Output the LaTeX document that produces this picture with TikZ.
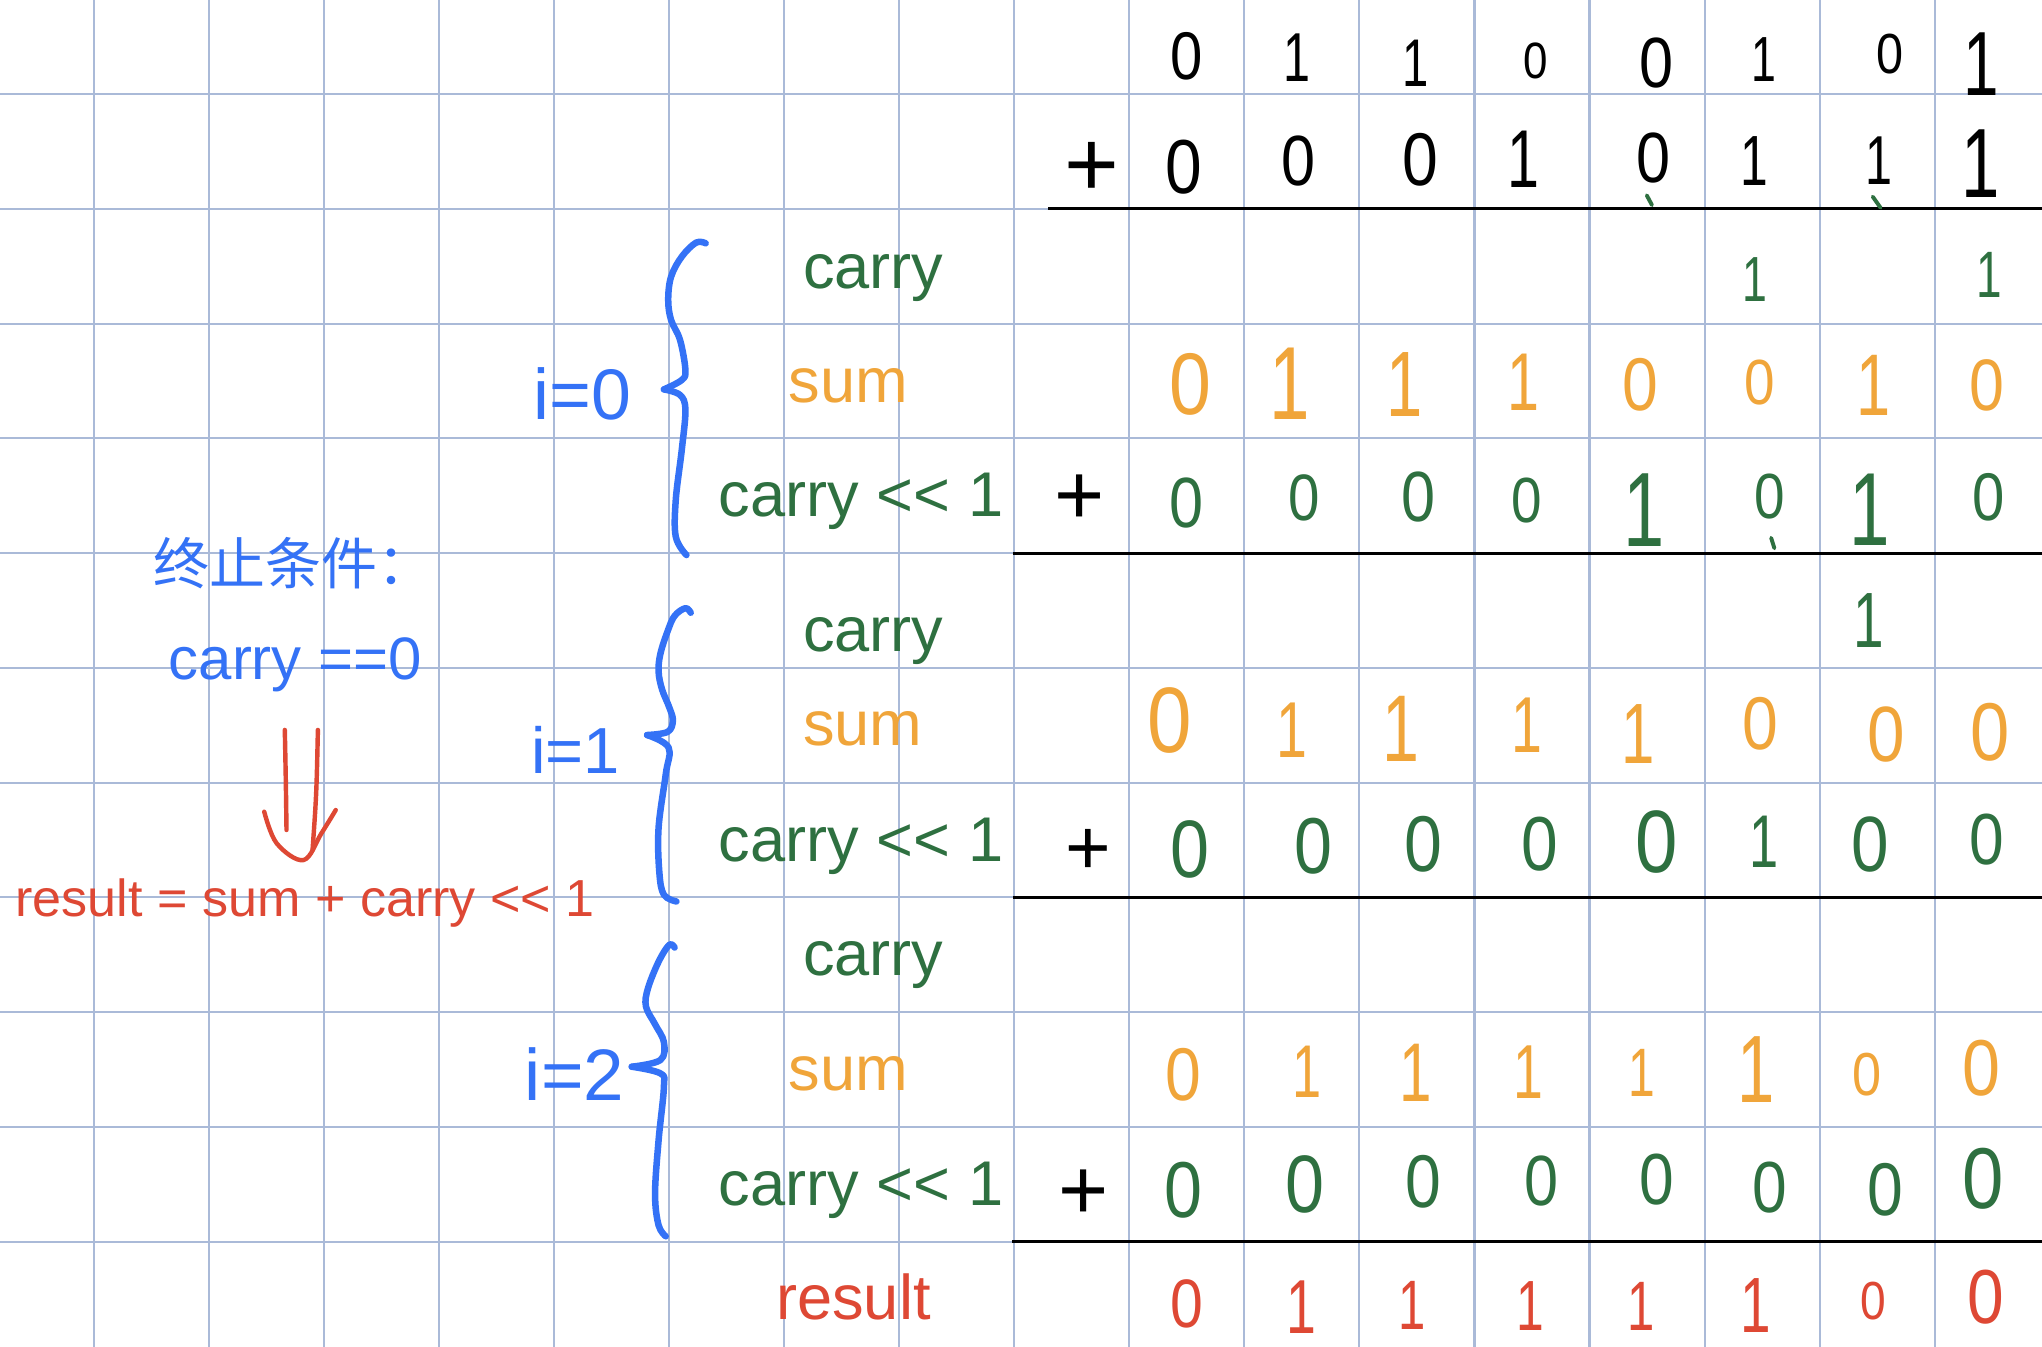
\documentclass[tikz,border=0pt]{standalone}
\usepackage{fontspec}
\setmainfont{Liberation Sans}
\newfontfamily\cjkfont{Noto Sans CJK SC}
\usepackage{graphicx}
\definecolor{gridc}{RGB}{170,186,216}
\definecolor{hblue}{RGB}{52,114,246}
\definecolor{hgreen}{RGB}{46,112,64}
\definecolor{horange}{RGB}{240,165,58}
\definecolor{hred}{RGB}{222,72,52}
\newcommand\shl{<\kern0pt<}
\newcommand\digrow[3]{%
  \foreach \x/\y/\h/\d [count=\i] in {#3} {%
    \pgfmathsetmacro\rr{\h/40}%
    \pgfmathsetmacro\sx{\rr*(0.86-0.16*(\d==1))}%
    \pgfmathsetmacro\xx{\x-(\d==1)*3*\sx}%
    \node[dg,text=#2] (#1-\i) at (\xx,\y) {\scalebox{\sx}[\rr]{\d}};
  }}
\begin{document}
\begin{tikzpicture}[x=1pt,y=-1pt,
  lbl/.style={inner sep=0pt, outer sep=0pt, anchor=base west, font=\fontsize{48.5}{58}\selectfont},
  dg/.style={inner sep=0pt, outer sep=0pt, anchor=center, font=\fontsize{56}{56}\selectfont},
  plus/.style={inner sep=0pt, outer sep=0pt, anchor=center, text=black},
  rule/.style={line width=2.4pt, black},
  gridline/.style={gridc, line width=1.6pt},
  brace/.style={hblue, line width=5pt, line cap=round, line join=round},
  tick/.style={hgreen, line width=3pt, line cap=round},
  harrow/.style={hred, line width=3.4pt, line cap=round, line join=round}]
\useasboundingbox (0,0) rectangle (1568,1034);
\fill[white] (0,0) rectangle (1568,1034);
% grid
\foreach \k in {0,...,16} \draw[gridline] ({72+88.35*\k},0) -- ({72+88.35*\k},1034);
\foreach \k in {0,...,10} \draw[gridline] (0,{72.2+88.13*\k}) -- (1568,{72.2+88.13*\k});
% rules
\draw[rule] (805,160.2) -- (1568,160.2);
\draw[rule] (778,425) -- (1568,425);
\draw[rule] (778,689) -- (1568,689);
\draw[rule] (777,953.5) -- (1568,953.5);
% top operands
\digrow{A}{black}{911/43/37/0, 998/44/38/1, 1089/48.5/37/1, 1179/47/28/0, 1272/48.5/39/0, 1356.6/45.5/35/1, 1451/41.5/31/0, 1524/49/50/1}
\node[plus, font=\fontsize{72}{72}\selectfont] (plusB) at (838.5,130) {+};
\digrow{B}{black}{908.7/128.6/42/0, 997/123.5/39/0, 1091/122.5/41/0, 1172.3/122.5/45/1, 1269.5/121.5/39/0, 1349/123.5/39/1, 1444.6/123/38/1, 1524/126/54/1}
\draw[tick] (1264.5,150) -- (1268.5,157.5);
\draw[tick] (1438,151) -- (1444,159.5);
% i=0
\node[lbl, text=hgreen] (carry0) at (616.7,221.4) {carry};
\node[lbl, text=horange] (sum0) at (605.8,308.8) {sum};
\node[lbl, text=hgreen] (shift0) at (552,396.7) {carry \shl{} 1};
\digrow{C0}{hgreen}{1349/214.4/35/1, 1529/211/36/1}
\digrow{S0}{horange}{913.8/295/48/0, 993/294.5/57/1, 1081.3/295.5/51/1, 1172.3/293.5/45/1, 1259.3/295.5/41/0, 1351.5/293.5/35/0, 1441/296/48/1, 1525.5/296/40/0}
\node[plus, font=\fontsize{66}{66}\selectfont] (plus0) at (829.3,383.5) {+};
\digrow{K0}{hgreen}{911.2/386.5/39/0, 1001.8/382.7/36/0, 1089.4/381.7/39/0, 1172.3/384.7/35/0, 1265.4/392/58/1, 1359.1/381/35/0, 1438.5/391.6/57/1, 1527/381.5/37/0}
\draw[tick] (1360,413) -- (1362.5,421);
\node[lbl, text=hblue, font=\fontsize{55}{60}\selectfont] (i0) at (410,322) {i=0};
\draw[brace] plot[smooth, tension=0.6] coordinates {(541.9,186.8) (534.5,186.3) (523.5,197.1) (515.3,212.5) (513.1,230.4) (515.3,245.7) (522.2,261.1) (526.3,284.1) (523.5,291.8) (509.8,299)};
\draw[brace] plot[smooth, tension=0.6] coordinates {(509.8,299) (522.2,303.3) (526.3,314.8) (523.5,345.5) (518.9,383.9) (518.9,412.1) (527.1,426.2)};
% i=1
\node[lbl, text=hgreen] (carry1) at (616.7,500.3) {carry};
\node[lbl, text=horange] (sum1) at (616.7,572.3) {sum};
\node[lbl, text=hgreen] (shift1) at (552,661.4) {carry \shl{} 1};
\digrow{C1}{hgreen}{1437.5/476.5/43/1}
\digrow{S1}{horange}{898.4/553/51/0, 994.2/560.5/43.5/1, 1078.6/559.6/52/1, 1174.9/556.7/43.5/1, 1260.3/563.7/47/1, 1351.5/555.5/41/0, 1448.7/564/43/0, 1528.1/562.5/45/0}
\node[plus, font=\fontsize{60}{60}\selectfont] (plus1) at (835.5,654) {+};
\digrow{K1}{hgreen}{913.8/652/44.7/0, 1008.5/650/43.5/0, 1092.9/648.3/43.4/0, 1182.5/648/42/0, 1272/646.3/48.6/0, 1356.6/646.3/41/1, 1436/648.5/43/0, 1525.5/644.4/39.7/0}
\node[lbl, text=hblue, font=\fontsize{50}{56}\selectfont] (i1) at (408,594) {i=1};
\draw[brace] plot[smooth, tension=0.6] coordinates {(530.4,470.5) (526.3,467) (518,472.9) (512.6,484.8) (507.1,502) (505.7,515.7) (508.4,529.5) (513.9,543.1) (516.7,553.4) (512.6,562) (496.9,564.4)};
\draw[brace] plot[smooth, tension=0.6] coordinates {(496.9,564.4) (513.4,574) (511.2,594.6) (505.7,635.7) (506.3,670) (509.8,687.1) (519.4,692.2)};
% i=2
\node[lbl, text=hgreen] (carry2) at (616.7,748.8) {carry};
\node[lbl, text=horange] (sum2) at (605.8,837.3) {sum};
\node[lbl, text=hgreen] (shift2) at (552,925.5) {carry \shl{} 1};
\digrow{S2}{horange}{908.7/825.5/41/0, 1005.9/823/41/1, 1089.4/824/45.7/1, 1175.9/823.5/42/1, 1262.9/824/37.6/1, 1351.5/821/52.5/1, 1433.4/825.4/33.3/0, 1521.4/820.3/43.5/0}
\node[plus, font=\fontsize{66}{66}\selectfont] (plus2) at (831.8,917) {+};
\digrow{K2}{hgreen}{908.6/913.8/43.5/0, 1002.3/909.3/44.7/0, 1093/907.4/41/0, 1183.4/906.5/39/0, 1272.3/905.5/39.7/0, 1359/911.8/39.7/0, 1447.5/913.8/41/0, 1523/905.5/47.4/0}
\node[lbl, text=hblue, font=\fontsize{56}{60}\selectfont] (i2) at (403,845) {i=2};
\draw[brace] plot[smooth, tension=0.6] coordinates {(518,727.6) (513.9,725.5) (505.7,738.5) (497.5,759.1) (496,772.8) (503,786.5) (509.8,800.2) (507.1,814) (485.1,819.1)};
\draw[brace] plot[smooth, tension=0.6] coordinates {(485.1,819.1) (507.1,824.2) (509.8,834.5) (505.7,875.7) (503,916.8) (505.7,940.8) (511.2,949.3)};
% result
\node[lbl, text=hred] (resl) at (596,1013) {result};
\digrow{R}{hred}{911.2/1001.2/37.6/0, 1001.8/1003.6/42/1, 1086.3/1002/38.4/1, 1177.4/1003/39/1, 1262.4/1003/38.4/1, 1350.4/1002.4/43/1, 1438.5/999/29.4/0, 1524.5/996.3/42/0}
% left notes
\node[lbl, text=hblue, font=\cjkfont\fontsize{43}{50}\selectfont] (stop) at (118,449) {终止条件：};
\node[lbl, text=hblue, font=\fontsize{46}{52}\selectfont] (cond) at (129.6,522) {carry ==0};
\node[lbl, text=hred, font=\fontsize{40}{48}\selectfont] (res) at (12,703.4) {result = sum + carry \shl{} 1};
% double arrow from cond to res
\coordinate (a1s) at (218.7,560.5);
\coordinate (a1e) at (220,637.3);
\coordinate (a2s) at (244.1,560.5);
\coordinate (a2e) at (240,652.7);
\draw[harrow] (a1s) .. controls (219.5,600) .. (a1e);
\draw[harrow] (a2s) .. controls (243,610) .. (a2e);
\draw[harrow] plot[smooth, tension=0.6] coordinates {(202.9,623.3) (212.5,647.6) (233.1,660.4) (246.8,639.9) (257.8,622)};
\end{tikzpicture}
\end{document}
